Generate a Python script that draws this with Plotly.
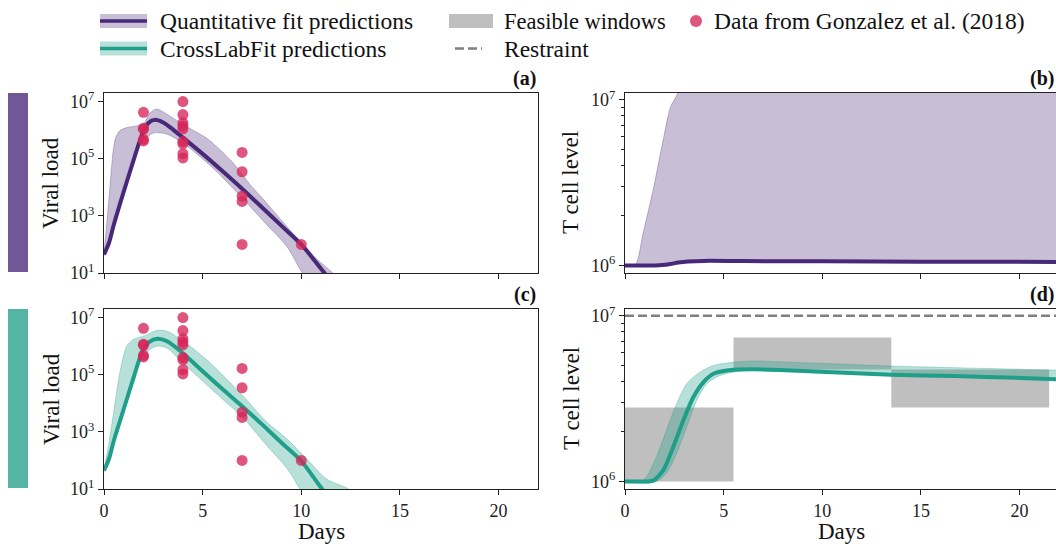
import numpy as np
import plotly.graph_objects as go

W, H = 1056, 548

# ---------------- data ----------------
# Observed viral load (Gonzalez et al. 2018)
obs_days = [2, 2, 2, 2, 2,
            4, 4, 4, 4, 4, 4, 4, 4, 4,
            7, 7, 7, 7, 7,
            10]
obs_vl = [4.2e6, 1.17e6, 1.07e6, 4.8e5, 4.2e5,
          1.0e7, 3.5e6, 1.8e6, 1.4e6, 1.1e6, 4.0e5, 3.3e5, 1.5e5, 1.07e5,
          1.66e5, 3.5e4, 4.9e3, 3.2e3, 1.0e2,
          1.0e2]

# Quantitative fit – viral load (log10 values)
qf_vl_days = [0, 0.25, 0.5, 1.0, 1.5, 1.8, 2.0, 2.25, 2.55, 3.0, 3.5, 4.0, 5.0, 6.0, 7.0, 8.0, 9.0, 10.0, 11.0, 12.0]
qf_vl_log = [1.65, 2.05, 2.7, 3.85, 4.95, 5.6, 5.95, 6.25, 6.36, 6.27, 6.02, 5.74, 5.17, 4.57, 3.95, 3.3, 2.65, 2.0, 1.15, 0.3]
qf_vl_up_days = [0, 0.15, 0.3, 0.47, 0.6, 0.8, 1.15, 1.66, 2.0, 2.33, 2.67, 3.2, 4.0, 5.2, 5.7, 6.55, 7.4, 8.24, 9.1, 9.93, 10.8, 11.6, 12.5]
qf_vl_up_log = [1.7, 2.8, 4.0, 5.3, 5.75, 5.98, 6.09, 6.15, 6.22, 6.6, 6.74, 6.55, 6.2, 5.72, 5.43, 4.85, 4.1, 3.45, 2.76, 2.12, 1.48, 1.0, 0.4]
qf_vl_lo_days = [0, 0.5, 1.0, 1.5, 1.8, 2.0, 2.5, 3.2, 4.0, 4.86, 5.7, 7.0, 8.24, 9.26, 10.05, 11.0]
qf_vl_lo_log = [1.6, 2.6, 3.75, 4.85, 5.45, 5.62, 5.9, 5.86, 5.55, 5.08, 4.56, 3.63, 2.7, 1.94, 1.0, 0.0]

# CrossLabFit – viral load (log10 values)
clf_vl_days = [0, 0.25, 0.5, 1.0, 1.5, 1.82, 2.0, 2.3, 2.7, 3.2, 4.0, 5.0, 6.0, 7.0, 8.0, 9.0, 10.0, 11.0, 12.0]
clf_vl_log = [1.65, 2.05, 2.7, 3.8, 4.9, 5.6, 5.9, 6.15, 6.26, 6.17, 5.75, 5.12, 4.5, 3.9, 3.27, 2.62, 1.98, 1.05, 0.2]
clf_vl_up_days = [0, 0.2, 0.47, 0.81, 1.15, 1.5, 2.0, 2.67, 3.2, 4.0, 5.2, 7.0, 8.24, 9.26, 10.27, 11.28, 12.4, 13.0]
clf_vl_up_log = [1.7, 2.4, 3.6, 5.1, 6.0, 6.24, 6.35, 6.55, 6.52, 6.18, 5.53, 4.29, 3.35, 2.76, 2.06, 1.35, 1.0, 0.6]
clf_vl_lo_days = [0, 0.5, 1.0, 1.5, 2.0, 2.67, 3.2, 4.0, 5.0, 6.0, 7.0, 8.24, 9.3, 9.93, 10.5]
clf_vl_lo_log = [1.6, 2.6, 3.7, 4.75, 5.7, 6.0, 5.93, 5.41, 4.78, 4.15, 3.53, 2.53, 1.7, 1.0, 0.4]

# Quantitative fit – T cells
qf_t_days = [0, 1.5, 1.9, 2.3, 2.7, 3.2, 4.0, 6.0, 10.0, 15.0, 22.0]
qf_t_vals = [1.0e6, 1.0e6, 1.005e6, 1.02e6, 1.04e6, 1.055e6, 1.065e6, 1.062e6, 1.058e6, 1.054e6, 1.05e6]
qf_t_up_days = [0, 0.5, 0.94, 1.45, 1.96, 2.3, 2.68, 3.2, 4.0, 22.0]
qf_t_up_log = [6.0, 6.0, 6.206, 6.469, 6.772, 6.954, 7.044, 7.3, 7.6, 7.7]

# CrossLabFit – T cells (log10 values)
clf_t_days = [0, 1.2, 1.44, 1.95, 2.45, 2.96, 3.47, 3.98, 4.48, 5.16, 6.5, 9.9, 13.5, 16.7, 20.05, 22.0]
clf_t_log = [6.0, 6.0, 6.005, 6.07, 6.21, 6.37, 6.51, 6.60, 6.65, 6.67, 6.677, 6.663, 6.645, 6.636, 6.625, 6.617]
clf_t_up_days = [0, 0.8, 1.1, 1.6, 2.1, 2.62, 3.13, 3.8, 4.48, 5.5, 6.5, 9.9, 13.5, 16.7, 22.0]
clf_t_up_log = [6.0, 6.0, 6.03, 6.15, 6.31, 6.47, 6.59, 6.66, 6.70, 6.72, 6.727, 6.713, 6.697, 6.687, 6.672]
clf_t_lo_days = [0, 1.5, 2.1, 2.62, 3.13, 3.64, 4.15, 4.82, 5.5, 6.5, 9.9, 13.5, 16.7, 20.05, 22.0]
clf_t_lo_log = [5.995, 5.995, 6.05, 6.17, 6.33, 6.49, 6.59, 6.64, 6.66, 6.672, 6.658, 6.64, 6.63, 6.62, 6.612]

# Feasible windows (day start, day end, low, high) and restraint
win_x0 = [0.0, 5.5, 13.5]
win_x1 = [5.5, 13.5, 21.5]
win_lo = [1.0e6, 4.75e6, 2.8e6]
win_hi = [2.8e6, 7.4e6, 4.75e6]
restraint_level = 1.0e7

x_ticks = [0, 5, 10, 15, 20]
vl_ticks = [1e1, 1e3, 1e5, 1e7]
vl_ticktext = ["10<sup>1</sup>", "10<sup>3</sup>", "10<sup>5</sup>", "10<sup>7</sup>"]
t_ticks = [1e6, 1e7]
t_ticktext = ["10<sup>6</sup>", "10<sup>7</sup>"]
t_minor = [2e6, 3e6, 4e6, 5e6, 6e6, 7e6, 8e6, 9e6]

# ---------------- styles ----------------
PURPLE = "#482878"
PURPLE_FILL = "rgba(72,40,120,0.30)"
PURPLE_EDGE = "rgba(72,40,120,0.30)"
TEAL = "#1f9e89"
TEAL_FILL = "rgba(31,158,137,0.32)"
TEAL_EDGE = "rgba(31,158,137,0.30)"
DOT = "rgba(214,37,88,0.78)"
GREY_WIN = "rgba(128,128,128,0.5)"
FONT = "Liberation Serif, Times New Roman, DejaVu Serif, serif"
AX = "#222222"

fig = go.Figure()


def p10(a):
    return np.power(10.0, np.asarray(a, dtype=float))


def add_band(xl, yl, xu, yu, fill, edge, xa, ya):
    fig.add_trace(go.Scatter(x=xl, y=yl, mode="lines", line=dict(color=edge, width=1, shape="spline", smoothing=0.8),
                             xaxis=xa, yaxis=ya, showlegend=False, hoverinfo="skip"))
    fig.add_trace(go.Scatter(x=xu, y=yu, mode="lines", line=dict(color=edge, width=1, shape="spline", smoothing=0.8),
                             fill="tonexty", fillcolor=fill, xaxis=xa, yaxis=ya, showlegend=False, hoverinfo="skip"))


def add_line(x, y, color, xa, ya):
    fig.add_trace(go.Scatter(x=x, y=y, mode="lines", line=dict(color=color, width=4, shape="spline", smoothing=0.8),
                             xaxis=xa, yaxis=ya, showlegend=False))


def add_obs(xa, ya):
    fig.add_trace(go.Scatter(x=obs_days, y=obs_vl, mode="markers",
                             marker=dict(color=DOT, size=11, line=dict(width=0)),
                             xaxis=xa, yaxis=ya, showlegend=False))


# (a) Quantitative fit viral load
add_band(qf_vl_lo_days, p10(qf_vl_lo_log), qf_vl_up_days, p10(qf_vl_up_log), PURPLE_FILL, PURPLE_EDGE, "x", "y")
add_line(qf_vl_days, p10(qf_vl_log), PURPLE, "x", "y")
add_obs("x", "y")

# (b) Quantitative fit T cells
add_band(qf_t_days, qf_t_vals, qf_t_up_days, p10(qf_t_up_log), PURPLE_FILL, PURPLE_EDGE, "x2", "y2")
add_line(qf_t_days, qf_t_vals, PURPLE, "x2", "y2")

# (c) CrossLabFit viral load
add_band(clf_vl_lo_days, p10(clf_vl_lo_log), clf_vl_up_days, p10(clf_vl_up_log), TEAL_FILL, TEAL_EDGE, "x3", "y3")
add_line(clf_vl_days, p10(clf_vl_log), TEAL, "x3", "y3")
add_obs("x3", "y3")

# (d) CrossLabFit T cells with feasible windows
for a0, a1, lo, hi in zip(win_x0, win_x1, win_lo, win_hi):
    fig.add_trace(go.Scatter(x=[a0, a1, a1, a0, a0], y=[lo, lo, hi, hi, lo], mode="lines",
                             line=dict(width=0), fill="toself", fillcolor=GREY_WIN,
                             xaxis="x4", yaxis="y4", showlegend=False, hoverinfo="skip"))
fig.add_trace(go.Scatter(x=[0, 22], y=[restraint_level, restraint_level], mode="lines",
                         line=dict(color="#808080", width=2.5, dash="9px,4px"),
                         xaxis="x4", yaxis="y4", showlegend=False))
add_band(clf_t_lo_days, p10(clf_t_lo_log), clf_t_up_days, p10(clf_t_up_log), TEAL_FILL, TEAL_EDGE, "x4", "y4")
add_line(clf_t_days, p10(clf_t_log), TEAL, "x4", "y4")

# ---------------- layout ----------------
LX = [104 / W, 538 / W]
RX = [625 / W, 1.0]
TY = [1 - 273 / H, 1 - 93 / H]
BY = [1 - 489 / H, 1 - 309 / H]

tickfont = dict(family=FONT, size=18, color=AX)


def xax(domain, anchor, rng, labels, mirror=True):
    return dict(domain=domain, anchor=anchor, range=rng, tickvals=x_ticks, showticklabels=labels,
                ticks="outside", ticklen=5, tickwidth=1.2, tickcolor=AX, showline=True, linecolor=AX,
                linewidth=1.3, mirror=mirror, showgrid=False, zeroline=False, tickfont=tickfont,
                automargin=False)


def yax(domain, anchor, rng, tv, tt, minor=None, mirror=True):
    d = dict(domain=domain, anchor=anchor, type="log", range=rng, tickvals=tv, ticktext=tt,
             ticks="outside", ticklen=5, tickwidth=1.2, tickcolor=AX, showline=True, linecolor=AX,
             linewidth=1.3, mirror=mirror, showgrid=False, zeroline=False, tickfont=tickfont,
             automargin=False)
    if minor is not None:
        d["minor"] = dict(tickvals=minor, ticks="outside", ticklen=3, tickwidth=1, tickcolor=AX, showgrid=False)
    return d


rx_max = (W - 625) / (434 / 22)
vl_range = [1, np.log10(2e7)]
t_range = [np.log10(9e5), np.log10(1.1e7)]

fig.update_layout(
    template="none",
    width=W, height=H, margin=dict(l=0, r=0, t=0, b=0, pad=0), autosize=False,
    paper_bgcolor="white", plot_bgcolor="white",
    font=dict(family=FONT, size=18, color="#111111"),
    xaxis=xax(LX, "y", [0, 22], False),
    yaxis=yax(TY, "x", vl_range, vl_ticks, vl_ticktext),
    xaxis2=xax(RX, "y2", [0, rx_max], False),
    yaxis2=yax(TY, "x2", t_range, t_ticks, t_ticktext, t_minor, mirror=False),
    xaxis3=xax(LX, "y3", [0, 22], True),
    yaxis3=yax(BY, "x3", vl_range, vl_ticks, vl_ticktext),
    xaxis4=xax(RX, "y4", [0, rx_max], True),
    yaxis4=yax(BY, "x4", t_range, t_ticks, t_ticktext, t_minor, mirror=False),
    showlegend=False,
)

shapes = []
annos = []


def px(x):
    return x / W


def py(y):
    return 1 - y / H


# Side colour bars
shapes.append(dict(type="rect", xref="paper", yref="paper", x0=px(8), x1=px(28), y0=py(272), y1=py(93),
                   fillcolor="rgba(72,40,120,0.78)", line=dict(width=0), layer="below"))
shapes.append(dict(type="rect", xref="paper", yref="paper", x0=px(8), x1=px(28), y0=py(488), y1=py(309),
                   fillcolor="rgba(31,158,137,0.76)", line=dict(width=0), layer="below"))

# Legend (manual)
R1, R2 = 21.0, 48.5
PH = 7
shapes.append(dict(type="rect", xref="paper", yref="paper", x0=px(100), x1=px(147), y0=py(R1 + PH), y1=py(R1 - PH),
                   fillcolor=PURPLE_FILL, line=dict(width=0)))
shapes.append(dict(type="line", xref="paper", yref="paper", x0=px(100), x1=px(147), y0=py(R1), y1=py(R1),
                   line=dict(color=PURPLE, width=3.5)))
shapes.append(dict(type="rect", xref="paper", yref="paper", x0=px(100), x1=px(147), y0=py(R2 + PH), y1=py(R2 - PH),
                   fillcolor=TEAL_FILL, line=dict(width=0)))
shapes.append(dict(type="line", xref="paper", yref="paper", x0=px(100), x1=px(147), y0=py(R2), y1=py(R2),
                   line=dict(color=TEAL, width=3.5)))
shapes.append(dict(type="rect", xref="paper", yref="paper", x0=px(449), x1=px(493), y0=py(R1 + PH), y1=py(R1 - PH),
                   fillcolor=GREY_WIN, line=dict(width=0)))
shapes.append(dict(type="line", xref="paper", yref="paper", x0=px(455), x1=px(482), y0=py(R2), y1=py(R2),
                   line=dict(color="#808080", width=2.5, dash="9px,4px")))
shapes.append(dict(type="circle", xref="paper", yref="paper", x0=px(690), x1=px(702), y0=py(R1 + 6), y1=py(R1 - 6),
                   fillcolor=DOT, line=dict(width=0)))

legfont = dict(family=FONT, size=23.5, color="#111111")
for txt, x, y, fs in [("Quantitative fit predictions", 158, R1, 23.5), ("CrossLabFit predictions", 158, R2, 23.5),
                      ("Feasible windows", 502, R1, 22.5), ("Restraint", 502, R2, 23.5),
                      ("Data from Gonzalez et al. (2018)", 712, R1, 23.5)]:
    annos.append(dict(text=txt, x=px(x), y=py(y), xref="paper", yref="paper", xanchor="left", yanchor="middle",
                      showarrow=False, font=dict(family=FONT, size=fs, color="#111111")))

# Panel labels
for lab, xa, ya in [("(a)", "x", "y"), ("(b)", "x2", "y2"), ("(c)", "x3", "y3"), ("(d)", "x4", "y4")]:
    annos.append(dict(text="<b>" + lab + "</b>", x=1, y=1, xref=xa + " domain", yref=ya + " domain",
                      xanchor="right", yanchor="bottom", yshift=1, showarrow=False,
                      font=dict(family=FONT, size=20, color="#111111")))

# Axis titles
labfont = dict(family=FONT, size=23, color="#111111")
for txt, x, y in [("Viral load", 51, 183), ("Viral load", 51, 399), ("T cell level", 571, 183), ("T cell level", 571, 399)]:
    annos.append(dict(text=txt, x=px(x), y=py(y), xref="paper", yref="paper", xanchor="center", yanchor="middle",
                      textangle=-90, showarrow=False, font=labfont))
for x in [321, 841]:
    annos.append(dict(text="Days", x=px(x), y=py(531), xref="paper", yref="paper", xanchor="center", yanchor="middle",
                      showarrow=False, font=labfont))

fig.update_layout(shapes=shapes, annotations=annos)
fig.write_html("out.html", config={"displayModeBar": False},
               post_script="document.body.style.margin='0px';document.body.style.overflow='hidden';")
